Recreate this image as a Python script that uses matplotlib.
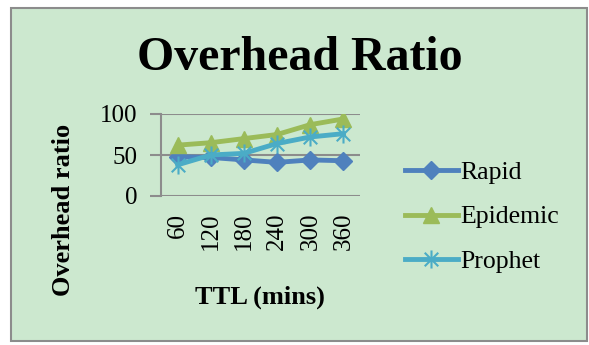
import matplotlib.pyplot as plt
from matplotlib.patches import Rectangle
from matplotlib.path import Path

# datos
ttl = ["60", "120", "180", "240", "300", "360"]
rapid = [48, 47, 44, 41, 44, 43]
epidemic = [62, 65, 70, 75, 87, 94]
prophet = [38, 50, 52, 64, 72, 76]
yticks = [0, 50, 100]

plt.rcParams['font.family'] = ['Liberation Serif', 'DejaVu Serif']

# asterisco tipo Excel: vertical + dos diagonales
ast = Path([(0, -1), (0, 1), (-0.75, -0.75), (0.75, 0.75), (-0.75, 0.75), (0.75, -0.75)],
           [Path.MOVETO, Path.LINETO, Path.MOVETO, Path.LINETO, Path.MOVETO, Path.LINETO])

bg = '#cce8cf'
fig = plt.figure(figsize=(5.89, 3.45), dpi=100)
fig.patch.set_facecolor('white')
W, H = 589, 345
fig.patches.append(Rectangle((11 / W, 1 - 341 / H), 576 / W, 333 / H,
                             transform=fig.transFigure, facecolor=bg,
                             edgecolor='#8c8c8c', lw=1.5, zorder=-5))

ax = fig.add_axes([161 / W, 1 - 196 / H, 199 / W, 82 / H])
ax.set_facecolor('none')
x = list(range(len(ttl)))
ax.plot(x, rapid, '-D', color='#4f81bd', lw=3.5, ms=9, label='Rapid')
ax.plot(x, epidemic, '-^', color='#9bbb59', lw=3.5, ms=11, label='Epidemic')
ax.plot(x, prophet, '-', marker=ast, color='#4bacc6', lw=3.5, ms=13,
        mew=1.5, label='Prophet')

ax.set_xlim(-0.5, 5.5)
ax.set_ylim(0, 100)
ax.set_yticks(yticks)
ax.set_xticks(x)
ax.set_xticklabels(ttl, rotation=90, fontsize=18)
ax.tick_params(axis='y', labelsize=18, length=8, color='#8c8c8c', width=1.5, pad=9)
ax.tick_params(axis='x', length=0, pad=12)
ax.grid(axis='y', color='#8c8c8c', lw=1.5)
ax.set_axisbelow(True)
for s in ['top', 'right', 'bottom']:
    ax.spines[s].set_visible(False)
ax.spines['left'].set_color('#8c8c8c')
ax.spines['left'].set_linewidth(1.5)

fig.text(300 / W, 1 - 58 / H, "Overhead Ratio", ha='center', va='center',
         fontsize=34.5, fontweight='bold')
fig.text(63 / W, 1 - 210 / H, "Overhead ratio", ha='center', va='center',
         rotation=90, fontsize=19, fontweight='bold')
fig.text(260 / W, 1 - 297 / H, "TTL (mins)", ha='center', va='center',
         fontsize=19, fontweight='bold')

fig.legend(loc='center left', bbox_to_anchor=(382 / W, 1 - 217 / H),
           frameon=False, fontsize=18.5, handlelength=2.05, labelspacing=0.85,
           handletextpad=0.1)

fig.savefig('out.png', dpi=100, facecolor='white')
